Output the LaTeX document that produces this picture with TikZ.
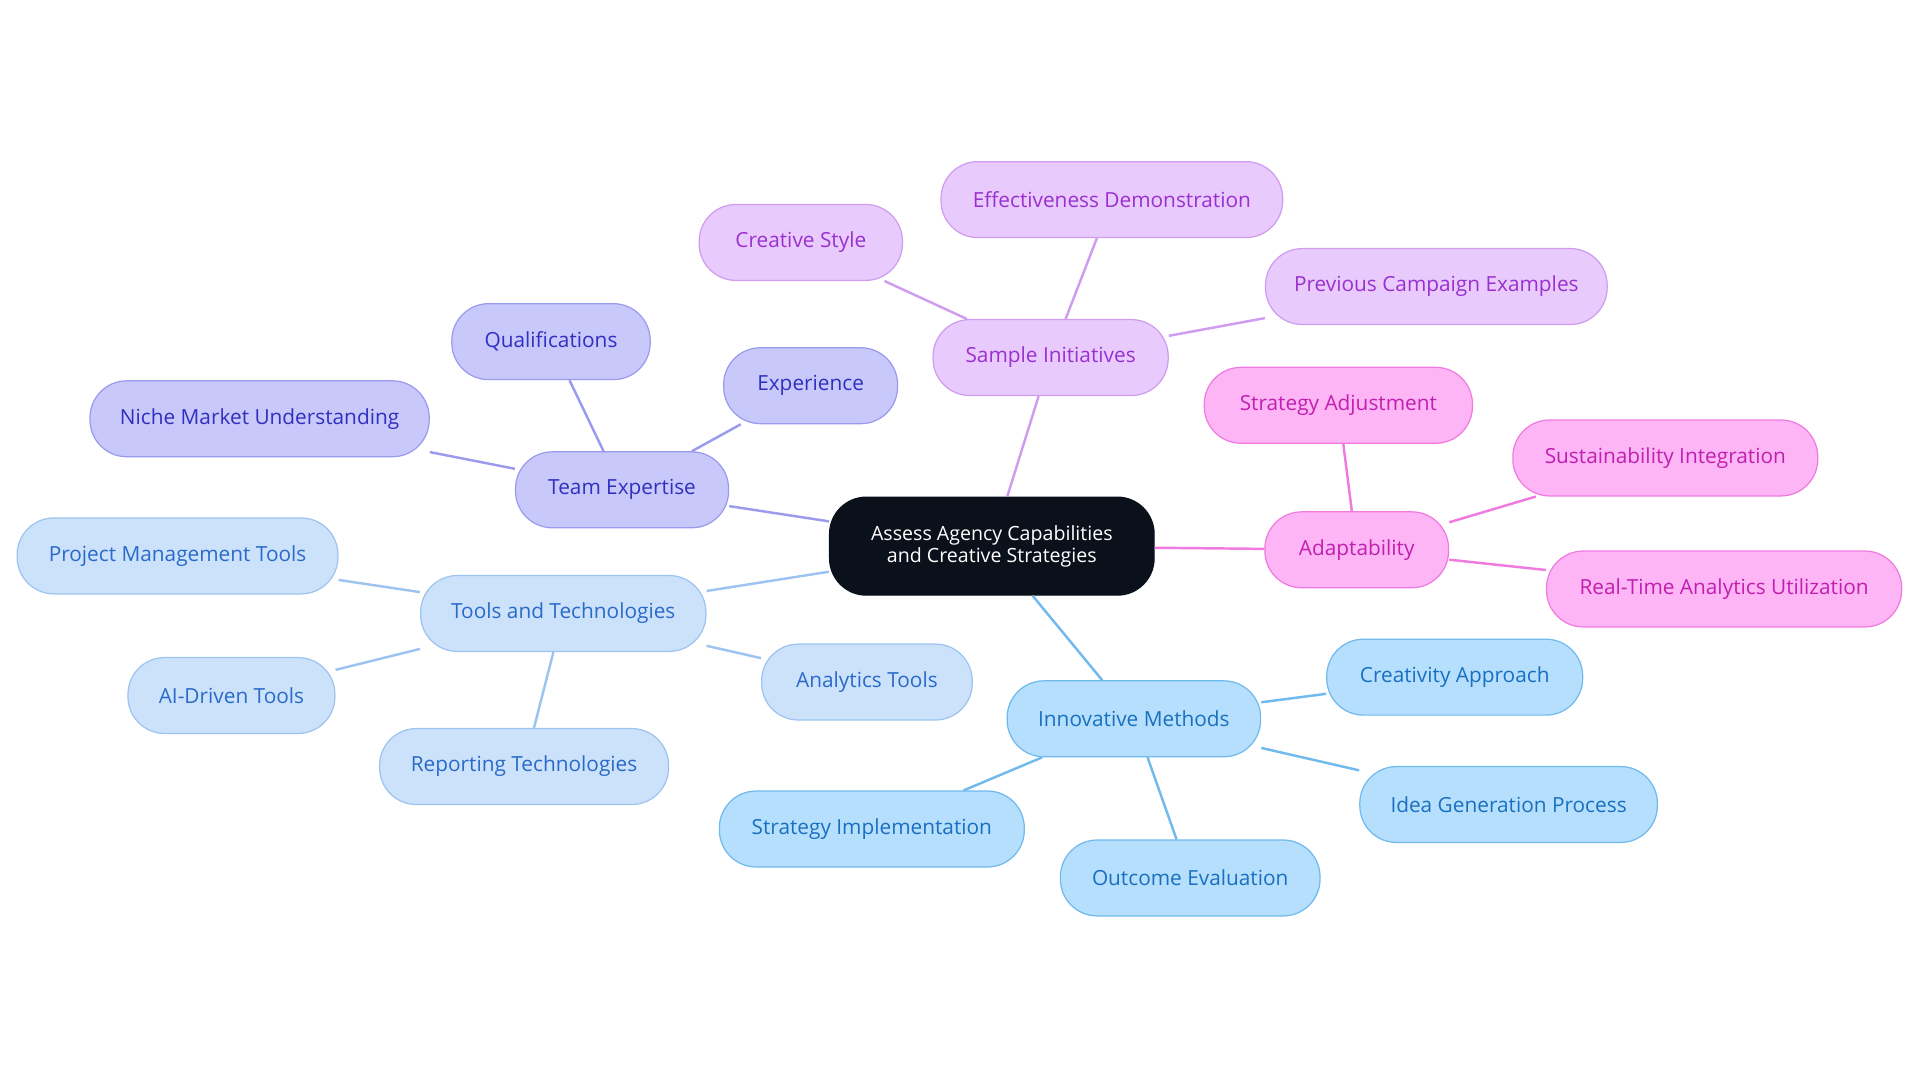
\documentclass[tikz,border=0pt]{standalone}
\usepackage{fontspec}
\setmainfont{Open Sans}
\begin{document}
\begin{tikzpicture}[x=1pt,y=-1pt,
  base/.style={rounded corners=30pt,minimum height=62pt,inner sep=0pt,line width=1pt,font=\fontsize{17}{20}\selectfont},
  te/.style={base,fill={rgb,255:red,200;green,200;blue,250},draw={rgb,255:red,154;green,154;blue,238},text={rgb,255:red,48;green,48;blue,192}},
  tt/.style={base,fill={rgb,255:red,204;green,226;blue,251},draw={rgb,255:red,157;green,196;blue,240},text={rgb,255:red,42;green,106;blue,200}},
  si/.style={base,fill={rgb,255:red,232;green,203;blue,252},draw={rgb,255:red,207;green,156;blue,240},text={rgb,255:red,154;green,48;blue,208}},
  ad/.style={base,fill={rgb,255:red,253;green,181;blue,245},draw={rgb,255:red,240;green,122;blue,224},text={rgb,255:red,192;green,32;blue,176}},
  im/.style={base,fill={rgb,255:red,181;green,223;blue,252},draw={rgb,255:red,112;green,186;blue,238},text={rgb,255:red,26;green,112;blue,192}},
  ete/.style={draw={rgb,255:red,154;green,154;blue,238},line width=2pt},
  ett/.style={draw={rgb,255:red,157;green,196;blue,240},line width=2pt},
  esi/.style={draw={rgb,255:red,207;green,156;blue,240},line width=2pt},
  ead/.style={draw={rgb,255:red,240;green,122;blue,224},line width=2pt},
  eim/.style={draw={rgb,255:red,112;green,186;blue,238},line width=2pt}]
\useasboundingbox[fill=white] (0,0) rectangle (1568,884);
\node[base,fill={rgb,255:red,11;green,17;blue,27},draw={rgb,255:red,11;green,17;blue,27},text=white,minimum width=265pt,minimum height=80pt,align=center,font=\fontsize{16}{18}\selectfont] (c) at (810,446) {Assess Agency Capabilities\\and Creative Strategies};
\node[te,minimum width=174pt] (te) at (508,400) {Team Expertise};
\node[te,minimum width=162pt] (q) at (450,279) {Qualifications};
\node[te,minimum width=142pt] (ex) at (662,315) {Experience};
\node[te,minimum width=277pt] (nm) at (212,342) {Niche Market Understanding};
\node[tt,minimum width=233pt] (tt) at (460,501) {Tools and Technologies};
\node[tt,minimum width=262pt] (pm) at (145,454) {Project Management Tools};
\node[tt,minimum width=169pt] (ai) at (189,568) {AI-Driven Tools};
\node[tt,minimum width=236pt] (rt) at (428,626) {Reporting Technologies};
\node[tt,minimum width=172pt] (at) at (708,557) {Analytics Tools};
\node[si,minimum width=192pt] (si) at (858,292) {Sample Initiatives};
\node[si,minimum width=166pt] (cs) at (654,198) {Creative Style};
\node[si,minimum width=279pt] (ed) at (908,163) {Effectiveness Demonstration};
\node[si,minimum width=279pt] (pc) at (1173,234) {Previous Campaign Examples};
\node[ad,minimum width=150pt] (ad) at (1108,449) {Adaptability};
\node[ad,minimum width=219pt] (sa) at (1093,331) {Strategy Adjustment};
\node[ad,minimum width=249pt] (sui) at (1360,374) {Sustainability Integration};
\node[ad,minimum width=290pt] (rta) at (1408,481) {Real-Time Analytics Utilization};
\node[im,minimum width=207pt] (im) at (926,587) {Innovative Methods};
\node[im,minimum width=209pt] (ca) at (1188,553) {Creativity Approach};
\node[im,minimum width=243pt] (ig) at (1232,657) {Idea Generation Process};
\node[im,minimum width=212pt] (oe) at (972,717) {Outcome Evaluation};
\node[im,minimum width=249pt] (sim) at (712,677) {Strategy Implementation};
\begin{scope}[on background layer/.style={}]
\end{scope}
\begin{pgfonlayer}{main}\end{pgfonlayer}
\draw[ete] (c) -- (te); \draw[ete] (te) -- (q); \draw[ete] (te) -- (ex); \draw[ete] (te) -- (nm);
\draw[ett] (c) -- (tt); \draw[ett] (tt) -- (pm); \draw[ett] (tt) -- (ai); \draw[ett] (tt) -- (rt); \draw[ett] (tt) -- (at);
\draw[esi] (c) -- (si); \draw[esi] (si) -- (cs); \draw[esi] (si) -- (ed); \draw[esi] (si) -- (pc);
\draw[ead] (c) -- (ad); \draw[ead] (ad) -- (sa); \draw[ead] (ad) -- (sui); \draw[ead] (ad) -- (rta);
\draw[eim] (c) -- (im); \draw[eim] (im) -- (ca); \draw[eim] (im) -- (ig); \draw[eim] (im) -- (oe); \draw[eim] (im) -- (sim);
\end{tikzpicture}
\end{document}
